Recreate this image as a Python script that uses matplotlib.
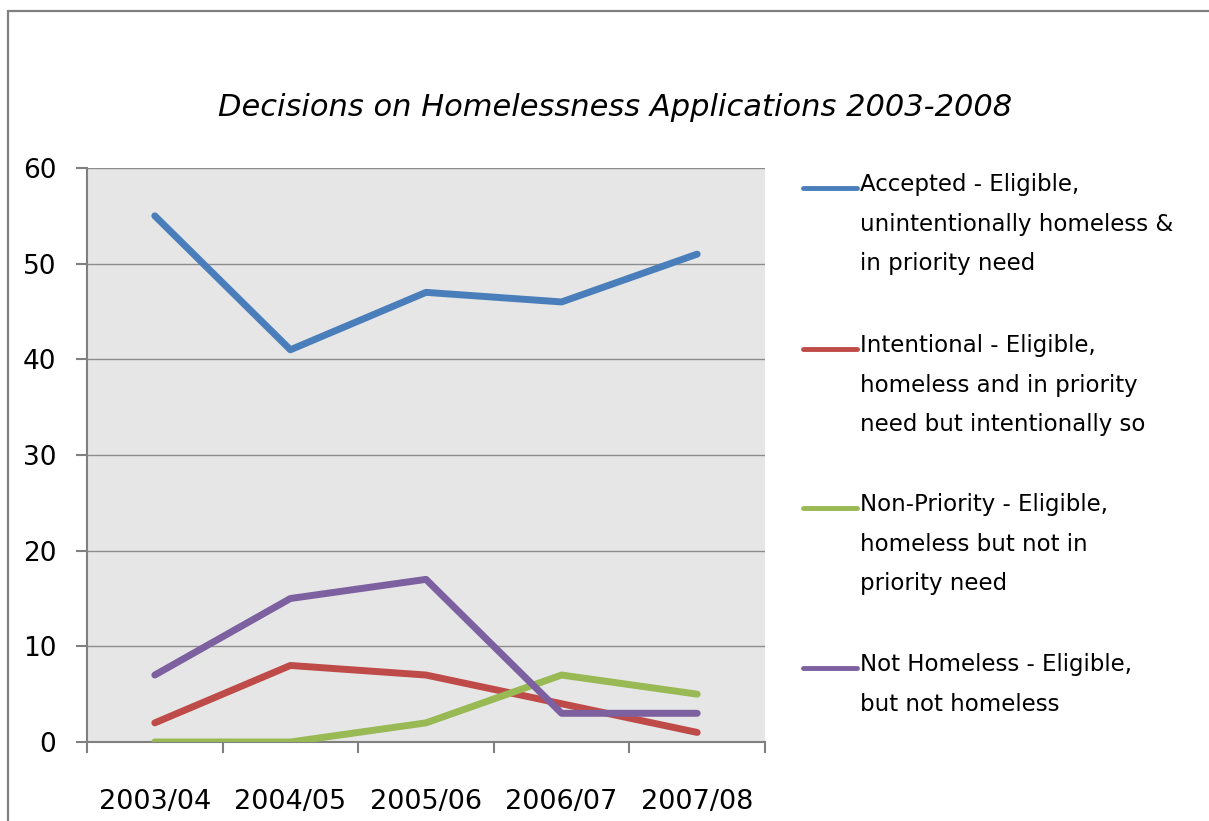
import matplotlib
matplotlib.use("Agg")
import matplotlib.pyplot as plt
from matplotlib.lines import Line2D
from matplotlib.patches import Rectangle

years = ["2003/04", "2004/05", "2005/06", "2006/07", "2007/08"]
accepted = [55, 41, 47, 46, 51]
intentional = [2, 8, 7, 4, 1]
non_priority = [0, 0, 2, 7, 5]
not_homeless = [7, 15, 17, 3, 3]

labels = [
    "Accepted - Eligible,\nunintentionally homeless &\nin priority need",
    "Intentional - Eligible,\nhomeless and in priority\nneed but intentionally so",
    "Non-Priority - Eligible,\nhomeless but not in\npriority need",
    "Not Homeless - Eligible,\nbut not homeless",
]
colors = ["#4a7ebb", "#be4b48", "#98b954", "#7d60a0"]
series = [accepted, intentional, non_priority, not_homeless]

W, H = 1209, 821
fig = plt.figure(figsize=(W / 100, H / 100), dpi=100)
fig.patch.set_facecolor("white")

# outer chart border (right/bottom edges fall outside the picture)
fig.add_artist(Rectangle((8 / W, -0.2), 2.0, 1.2 - 11 / H, transform=fig.transFigure,
                         fill=False, edgecolor="#808080", linewidth=1.6))

ax = fig.add_axes([87 / W, 1 - 742 / H, (765 - 87) / W, (742 - 168) / H])
ax.set_facecolor("#e6e6e6")

x = list(range(len(years)))
for vals, c in zip(series, colors):
    ax.plot(x, vals, color=c, linewidth=5, solid_capstyle="round",
            solid_joinstyle="round", zorder=3)

ax.set_xlim(-0.5, len(years) - 0.5)
ax.set_ylim(0, 60)
ax.set_yticks(range(0, 61, 10))
ax.yaxis.grid(True, color="#8c8c8c", linewidth=1.0)
ax.set_axisbelow(True)

ax.set_xticks(x)
ax.set_xticklabels(years)
ax.set_xticks([i - 0.5 for i in range(len(years) + 1)], minor=True)
ax.tick_params(axis="x", which="major", length=0, pad=34, labelsize=19.5)
ax.tick_params(axis="x", which="minor", length=8, width=1.5, color="#808080", direction="out")
ax.tick_params(axis="y", length=8, width=1.5, color="#808080", direction="out",
               labelsize=19, pad=14)

for side in ["top", "right"]:
    ax.spines[side].set_visible(False)
for side in ["left", "bottom"]:
    ax.spines[side].set_color("#808080")
    ax.spines[side].set_linewidth(1.5)

fig.text(615 / W, 1 - 108 / H, "Decisions on Homelessness Applications 2003-2008",
         ha="center", va="center", fontsize=22, style="italic")

# legend
leg_y = [188, 349, 508, 668]
for ly, lab, c in zip(leg_y, labels, colors):
    fig.add_artist(Line2D([803 / W, 857 / W], [1 - ly / H, 1 - ly / H],
                          transform=fig.transFigure, color=c, linewidth=3.5,
                          solid_capstyle="round"))
    fig.text(860 / W, 1 - (ly - 15) / H, lab, ha="left", va="top",
             fontsize=16.5, linespacing=1.93)

fig.savefig("out.png", dpi=100)
